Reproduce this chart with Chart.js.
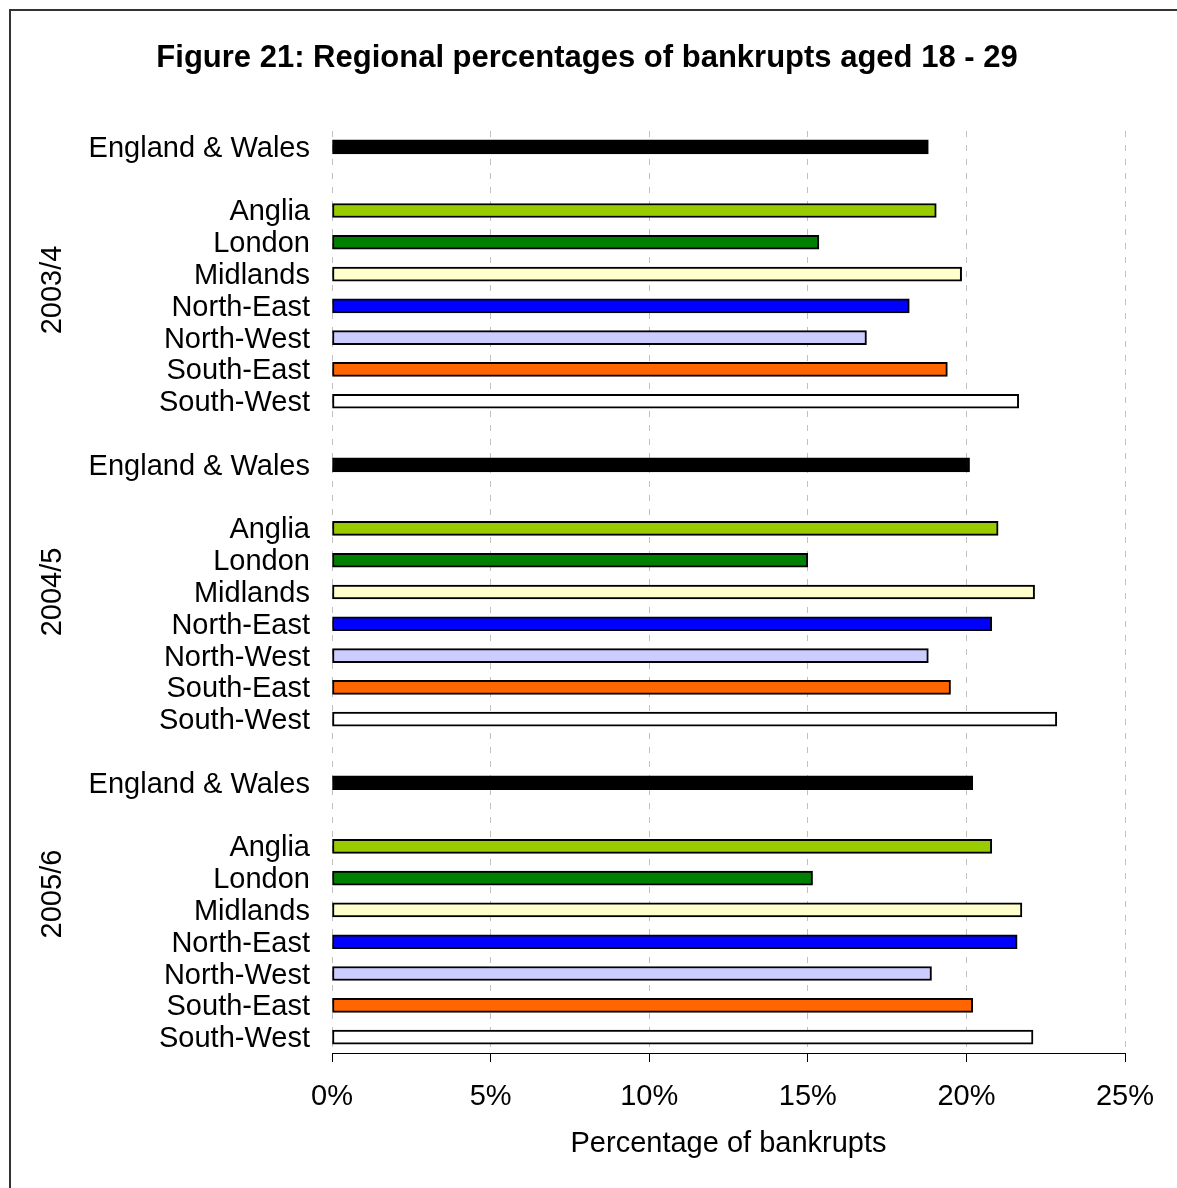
<!DOCTYPE html>
<html>
<head>
<meta charset="utf-8">
<script src="https://cdn.jsdelivr.net/npm/chart.js@4/dist/chart.umd.min.js"></script>
<style>
  html, body { margin: 0; padding: 0; background: #ffffff; }
  #wrap { width: 1177px; height: 1188px; position: relative; }
</style>
</head>
<body>
<div id="wrap"><canvas id="chart" width="1177" height="1188"></canvas></div>
<script>
// Regional shares of bankrupts aged 18 - 29, by financial year (percent)
const years = ['2003/4', '2004/5', '2005/6'];
const regions = ['England & Wales', 'Anglia', 'London', 'Midlands', 'North-East', 'North-West', 'South-East', 'South-West'];
const regionColours = ['#000000', '#99cc00', '#008000', '#ffffcc', '#0000ff', '#ccccff', '#ff6600', '#ffffff'];
const values2003 = [18.8, 19.05, 15.35, 19.85, 18.2, 16.85, 19.4, 21.65];
const values2004 = [20.1, 21.0, 15.0, 22.15, 20.8, 18.8, 19.5, 22.85];
const values2005 = [20.2, 20.8, 15.15, 21.75, 21.6, 18.9, 20.2, 22.1];
const xTicks = [0, 5, 10, 15, 20, 25];

const FONT = '"Liberation Sans", Arial, sans-serif';
const yearValues = [values2003, values2004, values2005];

// Rows: national bar, blank row, regional bars; blank row between years
const rowLabels = [], rowValues = [], rowColours = [], yearSpans = [];
yearValues.forEach((vals, yi) => {
  if (yi > 0) { rowLabels.push(''); rowValues.push(null); rowColours.push('#fff'); }
  const first = rowLabels.length;
  vals.forEach((v, ri) => {
    rowLabels.push(regions[ri]);
    rowValues.push(v);
    rowColours.push(regionColours[ri]);
    if (ri === 0) { rowLabels.push(''); rowValues.push(null); rowColours.push('#fff'); }
  });
  yearSpans.push([first, rowLabels.length - 1]);
});
const yearNudge = [0.5, 0, -0.5];

const decorations = {
  id: 'decorations',
  beforeDraw(chart) {
    const ctx = chart.ctx;
    ctx.save();
    ctx.fillStyle = '#ffffff';
    ctx.fillRect(0, 0, chart.width, chart.height);
    ctx.strokeStyle = '#333333';
    ctx.lineWidth = 2;
    ctx.beginPath();
    ctx.moveTo(10, chart.height + 5);
    ctx.lineTo(10, 10);
    ctx.lineTo(chart.width + 5, 10);
    ctx.stroke();
    ctx.restore();
  },
  afterDraw(chart) {
    const ctx = chart.ctx;
    ctx.save();
    ctx.fillStyle = '#000000';
    ctx.textAlign = 'center';
    ctx.textBaseline = 'middle';
    ctx.font = 'bold 31px ' + FONT;
    ctx.fillText('Figure 21: Regional percentages of bankrupts aged 18 - 29', 587, 58);
    ctx.font = '29px ' + FONT;
    const yScale = chart.scales.y;
    yearSpans.forEach((span, i) => {
      const mid = (span[0] + span[1]) / 2 + yearNudge[i];
      const y = yScale.getPixelForValue(mid);
      ctx.save();
      ctx.translate(53, y);
      ctx.rotate(-Math.PI / 2);
      ctx.fillText(years[i], 0, 0);
      ctx.restore();
    });
    ctx.restore();
  }
};

new Chart(document.getElementById('chart'), {
  type: 'bar',
  data: {
    labels: rowLabels,
    datasets: [{
      data: rowValues,
      backgroundColor: rowColours,
      borderColor: '#000000',
      borderWidth: 2,
      borderSkipped: false,
      barThickness: 14
    }]
  },
  options: {
    indexAxis: 'y',
    responsive: false,
    animation: false,
    events: [],
    layout: { padding: { top: 131, right: 52, left: 0, bottom: 0 } },
    plugins: {
      legend: { display: false },
      title: { display: false },
      tooltip: { enabled: false }
    },
    scales: {
      x: {
        min: 0, max: 25,
        afterBuildTicks(scale) { scale.ticks = xTicks.map(v => ({ value: v })); },
        afterFit(scale) { scale.height = 135; },
        border: { display: true, color: '#000000', width: 1, dash: [6, 8] },
        grid: {
          color: '#c0c0c0',
          lineWidth: 1,
          drawTicks: true,
          tickLength: 9,
          tickColor: '#000000',
          tickBorderDash: [1, 0]
        },
        ticks: {
          color: '#000000',
          font: { family: FONT, size: 29 },
          padding: 18,
          callback: v => v + '%'
        },
        title: {
          display: true,
          text: 'Percentage of bankrupts',
          color: '#000000',
          font: { family: FONT, size: 29 },
          padding: { top: 0, bottom: 27 }
        }
      },
      y: {
        afterFit(scale) { scale.width = 332; },
        border: { display: false },
        grid: { display: false, drawTicks: false },
        ticks: {
          autoSkip: false,
          color: '#000000',
          font: { family: FONT, size: 29 },
          padding: 22,
          labelOffset: 2
        }
      }
    }
  },
  plugins: [decorations]
});
</script>
</body>
</html>
